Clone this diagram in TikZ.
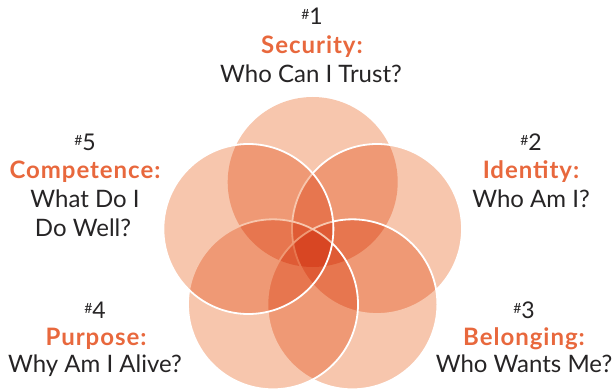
\documentclass[tikz,border=0pt]{standalone}
\usepackage{fontspec}
\setmainfont{Lato}
\newfontfamily\ttlfont{Lato}[LetterSpace=4]
\definecolor{peach}{RGB}{247,198,173}
\definecolor{accent}{RGB}{232,104,61}
\definecolor{ink}{RGB}{38,36,37}
\tikzset{
  num/.style={anchor=base, text=ink, font=\fontsize{23}{23}\selectfont, inner sep=0pt},
  ttl/.style={anchor=base, text=accent, font=\ttlfont\fontsize{24}{24}\selectfont\bfseries, inner sep=0pt},
  qst/.style={anchor=base, text=ink, font=\fontsize{24}{24}\selectfont, inner sep=0pt},
  ring/.style={draw=white, line width=1.8pt},
}
\newcommand{\hsh}[1]{\raisebox{5pt}{\fontsize{14}{14}\selectfont\#}#1}
\begin{document}
\begin{tikzpicture}[x=1pt,y=-1pt]
\useasboundingbox (0,0) rectangle (612,390);
% circle centres
\coordinate (c1) at (312.7,182);
\coordinate (c2) at (377,229);
\coordinate (c3) at (352.4,304.3);
\coordinate (c4) at (273,304.3);
\coordinate (c5) at (248.4,229);
\begin{scope}[blend mode=multiply]
  \fill[peach] (c1) circle (85);
\end{scope}
\begin{scope}[blend mode=multiply]
  \fill[peach] (c2) circle (85);
\end{scope}
\draw[ring] (c2) circle (85);
\begin{scope}[blend mode=multiply]
  \fill[peach] (c3) circle (85);
\end{scope}
\draw[ring] (c3) circle (85);
\begin{scope}[blend mode=multiply]
  \fill[peach] (c4) circle (85);
\end{scope}
\draw[ring] (c4) circle (85);
\begin{scope}[blend mode=multiply]
  \fill[peach] (c5) circle (85);
\end{scope}
\draw[ring] (c5) circle (85);
% labels
\node[num] (n1) at (312,25) {\hsh{1}};
\node[ttl] (t1) at (312,54) {Security:};
\node[qst] (q1) at (311,83) {Who Can I Trust?};
\node[num] (n2) at (531,150) {\hsh{2}};
\node[ttl] (t2) at (531,178) {Identity:};
\node[qst] (q2) at (531,207) {Who Am I?};
\node[num] (n3) at (524,318) {\hsh{3}};
\node[ttl] (t3) at (524,345) {Belonging:};
\node[qst] (q3) at (524,372) {Who Wants Me?};
\node[num] (n4) at (95,318) {\hsh{4}};
\node[ttl] (t4) at (96,345) {Purpose:};
\node[qst] (q4) at (95,372) {Why Am I Alive?};
\node[num] (n5) at (85,150) {\hsh{5}};
\node[ttl] (t5) at (85,178) {Competence:};
\node[qst] (q5) at (85,207) {What Do I};
\node[qst] (q5b) at (83,236) {Do Well?};
\end{tikzpicture}
\end{document}
